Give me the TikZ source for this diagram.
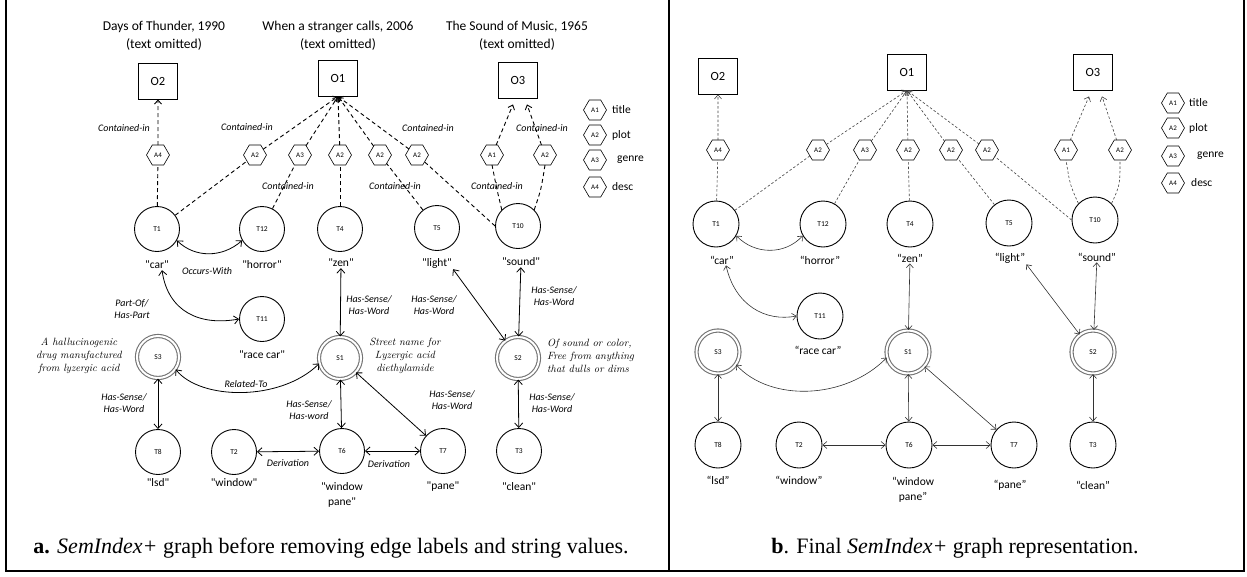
\documentclass[tikz,border=0pt]{standalone}
\usepackage{fontspec}
\usetikzlibrary{shapes.geometric,arrows.meta}
\newfontfamily\carl{Carlito}
\newfontfamily\tms{Liberation Serif}
\begin{document}
\begin{tikzpicture}[x=1pt,y=-1pt,
  obox/.style={draw, line width=0.9pt, minimum width=39pt, minimum height=36pt, inner sep=0pt, font=\carl\fontsize{12.5}{13}\selectfont},
  hexa/.style={regular polygon, regular polygon sides=6, draw, line width=0.6pt, minimum size=23pt, inner sep=0pt, outer sep=0pt, font=\carl\fontsize{7}{7}\selectfont},
  tnode/.style={circle, draw, line width=0.9pt, minimum size=45pt, inner sep=0pt, font=\carl\fontsize{7.5}{8}\selectfont},
  snode/.style={circle, draw=black!55, double=white, double distance=2pt, line width=1.1pt, minimum size=42pt, inner sep=0pt, font=\carl\fontsize{7.5}{8}\selectfont},
  ttl/.style={align=center, font=\carl\fontsize{13.5}{18}\selectfont},
  lbl/.style={align=center, inner sep=1pt, font=\carl\fontsize{11.5}{15}\selectfont},
  elbl/.style={align=center, inner sep=0pt, font=\carl\itshape\fontsize{10}{12.5}\selectfont},
  annot/.style={inner sep=0pt, font=\itshape\fontsize{10.5}{12.8}\selectfont},
  legt/.style={anchor=west, inner sep=0pt, font=\carl\fontsize{11.5}{12}\selectfont},
  cdash/.style={dash pattern=on 4pt off 3pt, line width=0.9pt},
  rdash/.style={dash pattern=on 2.5pt off 2pt, line width=0.6pt, draw=black!75},
  headarr/.style={-{Straight Barb[length=4pt,width=7pt]}},
  arr/.style={{Straight Barb[length=4.5pt,width=8pt]}-{Straight Barb[length=4.5pt,width=8pt]}, line width=0.8pt},
  rarr/.style={{Straight Barb[length=4pt,width=7pt]}-{Straight Barb[length=4pt,width=7pt]}, line width=0.6pt, draw=black!80},
  captxt/.style={anchor=base, inner sep=0pt, font=\tms\fontsize{22}{24}\selectfont}]
\useasboundingbox (0,0) rectangle (1247,576);
% frame
\draw[line width=2pt] (6,0) -- (6,571) -- (1244,571) -- (1244,0);
\draw[line width=2pt] (669,0) -- (669,571);

% ================= LEFT PANEL =================
\node[ttl] (tt2) at (164,36) {Days of Thunder, 1990\\(text omitted)};
\node[ttl] (tt1) at (338,36) {When a stranger calls, 2006\\(text omitted)};
\node[ttl] (tt3) at (517,36) {The Sound of Music, 1965\\(text omitted)};

\node[obox] (O2) at (158,81) {O2};
\node[obox] (O1) at (338,78) {O1};
\node[obox] (O3) at (518,80) {O3};

\node[hexa] (hA4) at (158,155) {A4};
\node[hexa] (hA2a) at (255,155) {A2};
\node[hexa] (hA3) at (300,155) {A3};
\node[hexa] (hA2b) at (340,155) {A2};
\node[hexa] (hA2c) at (380,155) {A2};
\node[hexa] (hA2d) at (417,155) {A2};
\node[hexa] (hA1) at (492,155) {A1};
\node[hexa] (hA2e) at (545,155) {A2};

% legend
\node[hexa] (gA1) at (595,110) {A1};
\node[hexa] (gA2) at (595,135) {A2};
\node[hexa] (gA3) at (595,160) {A3};
\node[hexa] (gA4) at (595,187) {A4};
\node[legt] (gt1) at (612,110) {title};
\node[legt] (gt2) at (612,135) {plot};
\node[legt] (gt3) at (617,160) {genre};
\node[legt] (gt4) at (612,187) {desc};

\node[tnode] (T1) at (157,229) {T1};
\node[tnode] (T12) at (262,229) {T12};
\node[tnode] (T4) at (340,229) {T4};
\node[tnode] (T5) at (437,228) {T5};
\node[tnode] (T10) at (518,226) {T10};
\node[lbl] (lcar) at (157,265) {"car"};
\node[lbl] (lhorror) at (262,265) {"horror"};
\node[lbl] (lzen) at (341,263) {"zen"};
\node[lbl] (llight) at (437,263) {"light"};
\node[lbl] (lsound) at (521,262) {"sound"};

\node[tnode] (T11) at (262,319) {T11};
\node[lbl] (lrace) at (262,355) {"race car"};
\node[snode] (S3) at (158,357) {S3};
\node[snode] (S1) at (340,358) {S1};
\node[snode] (S2) at (518,358) {S2};

\node[tnode] (T8) at (158,452) {T8};
\node[tnode] (T2) at (234,452) {T2};
\node[tnode] (T6) at (342,451) {T6};
\node[tnode] (T7) at (443,451) {T7};
\node[tnode] (T3) at (519,451) {T3};
\node[lbl] (llsd) at (158,483) {"lsd"};
\node[lbl] (lwindow) at (234,483) {"window"};
\node[lbl] (lwp) at (342,495) {"window\\pane"};
\node[lbl] (lpane) at (443,487) {"pane"};
\node[lbl] (lclean) at (519,487) {"clean"};

% notes
\node[annot, align=center] (n3) at (79,356) {A hallucinogenic\\drug manufactured\\from lyzergic acid};
\node[annot, align=center] (n1) at (405,356) {Street name for\\Lyzergic acid\\diethylamide};
\node[annot, align=left, anchor=west] (n2) at (547,356) {Of sound or color,\\Free from anything\\that dulls or dims};

% dashed contained-in edges
\draw[cdash] (T1) -- (hA4);
\draw[cdash,headarr] (hA4) -- (O2);
\draw[cdash] (T1) -- (hA2a);
\draw[cdash,headarr] (hA2a) -- (O1.south);
\draw[cdash] (T12) -- (hA3);
\draw[cdash,headarr] (hA3) -- (O1.south);
\draw[cdash] (T4) -- (hA2b);
\draw[cdash,headarr] (hA2b) -- (O1.south);
\draw[cdash] (T5) -- (hA2c);
\draw[cdash,headarr] (hA2c) -- (O1.south);
\draw[cdash] (T10.west) -- (hA2d);
\draw[cdash,headarr] (hA2d) -- (O1.south);
\draw[cdash] (T10.north west) .. controls (497,190) .. (hA1.south);
\draw[cdash,headarr] (hA1) -- ([xshift=-5pt,yshift=-6pt]O3.south);
\draw[cdash] (T10.north east) .. controls (541,190) .. (hA2e.south);
\draw[cdash,headarr] (hA2e) -- ([xshift=9pt,yshift=-6pt]O3.south);

% edge labels
\node[elbl] (e1) at (124,128) {Contained-in};
\node[elbl] (e2) at (247,127) {Contained-in};
\node[elbl] (e3) at (288,186) {Contained-in};
\node[elbl] (e4) at (428,128) {Contained-in};
\node[elbl] (e5) at (395,186) {Contained-in};
\node[elbl] (e6) at (497,186) {Contained-in};
\node[elbl] (e7) at (542,128) {Contained-in};
\node[elbl] (e8) at (207,271) {Occurs-With};
\node[elbl] (e9) at (132,309) {Part-Of/\\Has-Part};
\node[elbl] (e10) at (369,305) {Has-Sense/\\Has-Word};
\node[elbl] (e11) at (434,305) {Has-Sense/\\Has-Word};
\node[elbl] (e12) at (554,296) {Has-Sense/\\Has-Word};
\node[elbl] (e13) at (246,384) {Related-To};
\node[elbl] (e14) at (124,403) {Has-Sense/\\Has-Word};
\node[elbl] (e15) at (309,410) {Has-Sense/\\Has-word};
\node[elbl] (e16) at (452,400) {Has-Sense/\\Has-Word};
\node[elbl] (e17) at (552,403) {Has-Sense/\\Has-Word};
\node[elbl] (e18) at (288,463) {Derivation};
\node[elbl] (e19) at (389,464) {Derivation};

% solid arrows
\draw[arr] (T1.-30) .. controls (195,258) and (222,258) .. (T12.-150);
\draw[arr] ([xshift=5pt]lcar.south) .. controls (168,312) and (200,326) .. (T11.west);
\draw[arr] (lzen) -- (S1);
\draw[arr] (llight.south east) -- (S2);
\draw[arr] (lsound) -- (S2);
\draw[arr] (S3.-35) .. controls (200,400) and (280,402) .. (S1.-165);
\draw[arr] (S3) -- (T8);
\draw[arr] (S1) -- (T6);
\draw[arr] (S1) -- (T7);
\draw[arr] (T2) -- (T6);
\draw[arr] (T6) -- (T7);
\draw[arr] (S2) -- (T3);

% ================= RIGHT PANEL =================
\node[obox] (rO2) at (718,76) {O2};
\node[obox] (rO1) at (907,72) {O1};
\node[obox] (rO3) at (1093,72) {O3};

\node[hexa] (rA4) at (718,150) {A4};
\node[hexa] (rA2a) at (818,150) {A2};
\node[hexa] (rA3) at (865,150) {A3};
\node[hexa] (rA2b) at (908,150) {A2};
\node[hexa] (rA2c) at (951,150) {A2};
\node[hexa] (rA2d) at (987,150) {A2};
\node[hexa] (rA1) at (1066,150) {A1};
\node[hexa] (rA2e) at (1120,150) {A2};

\node[hexa] (rgA1) at (1173,103) {A1};
\node[hexa] (rgA2) at (1173,128) {A2};
\node[hexa] (rgA3) at (1173,156) {A3};
\node[hexa] (rgA4) at (1173,183) {A4};
\node[legt] (rgt1) at (1189,103) {title};
\node[legt] (rgt2) at (1189,128) {plot};
\node[legt] (rgt3) at (1197,156) {genre};
\node[legt] (rgt4) at (1191,183) {desc};

\node[tnode, minimum size=46pt] (rT1) at (716,224) {T1};
\node[tnode, minimum size=46pt] (rT12) at (823,224) {T12};
\node[tnode, minimum size=46pt] (rT4) at (910,224) {T4};
\node[tnode, minimum size=46pt] (rT5) at (1009,223) {T5};
\node[tnode, minimum size=46pt] (rT10) at (1095,220) {T10};
\node[lbl] (rlcar) at (722,260) {“car”};
\node[lbl] (rlhorror) at (820,260) {“horror”};
\node[lbl] (rlzen) at (910,258) {“zen”};
\node[lbl] (rllight) at (1010,258) {“light”};
\node[lbl] (rlsound) at (1097,257) {“sound”};

\node[tnode, minimum size=46pt] (rT11) at (820,316) {T11};
\node[lbl] (rlrace) at (818,350) {“race car”};
\node[snode, minimum size=43pt] (rS3) at (718,352) {S3};
\node[snode, minimum size=43pt] (rS1) at (908,352) {S1};
\node[snode, minimum size=43pt] (rS2) at (1093,352) {S2};

\node[tnode, minimum size=46pt] (rT8) at (718,445) {T8};
\node[tnode, minimum size=46pt] (rT2) at (799,445) {T2};
\node[tnode, minimum size=46pt] (rT6) at (909,445) {T6};
\node[tnode, minimum size=46pt] (rT7) at (1014,445) {T7};
\node[tnode, minimum size=46pt] (rT3) at (1093,445) {T3};
\node[lbl] (rllsd) at (718,480) {“lsd”};
\node[lbl] (rlwindow) at (799,480) {“window”};
\node[lbl] (rlwp) at (913,490) {“window\\pane”};
\node[lbl] (rlpane) at (1010,485) {“pane”};
\node[lbl] (rlclean) at (1093,485) {“clean”};

\draw[rdash] (rT1) -- (rA4);
\draw[rdash,headarr] (rA4) -- (rO2);
\draw[rdash] (rT1) -- (rA2a);
\draw[rdash,headarr] (rA2a) -- (rO1.south);
\draw[rdash] (rT12) -- (rA3);
\draw[rdash,headarr] (rA3) -- (rO1.south);
\draw[rdash] (rT4) -- (rA2b);
\draw[rdash,headarr] (rA2b) -- (rO1.south);
\draw[rdash] (rT5) -- (rA2c);
\draw[rdash,headarr] (rA2c) -- (rO1.south);
\draw[rdash] (rT10.west) -- (rA2d);
\draw[rdash,headarr] (rA2d) -- (rO1.south);
\draw[rdash] (rT10.north west) .. controls (1070,185) .. (rA1.south);
\draw[rdash,headarr] (rA1) -- ([xshift=-4pt,yshift=-6pt]rO3.south);
\draw[rdash] (rT10.north east) .. controls (1120,185) .. (rA2e.south);
\draw[rdash,headarr] (rA2e) -- ([xshift=9pt,yshift=-6pt]rO3.south);

\draw[rarr] (rT1.-30) .. controls (755,255) and (785,255) .. (rT12.-150);
\draw[rarr] ([xshift=4pt]rlcar.south) .. controls (735,305) and (765,322) .. (rT11.west);
\draw[rarr] (rlzen) -- (rS1);
\draw[rarr] (rllight.south east) -- (rS2);
\draw[rarr] (rlsound) -- (rS2);
\draw[rarr] (rS3.-35) .. controls (770,402) and (845,400) .. (rS1.-165);
\draw[rarr] (rS3) -- (rT8);
\draw[rarr] (rS1) -- (rT6);
\draw[rarr] (rS1) -- (rT7);
\draw[rarr] (rT2) -- (rT6);
\draw[rarr] (rT6) -- (rT7);
\draw[rarr] (rS2) -- (rT3);

% captions
\node[captxt] (capa) at (331,553) {\textbf{a.} \textit{SemIndex+} graph before removing edge labels and string values.};
\node[captxt] (capb) at (955,553) {\textbf{b}. Final \textit{SemIndex+} graph representation.};
\end{tikzpicture}
\end{document}
